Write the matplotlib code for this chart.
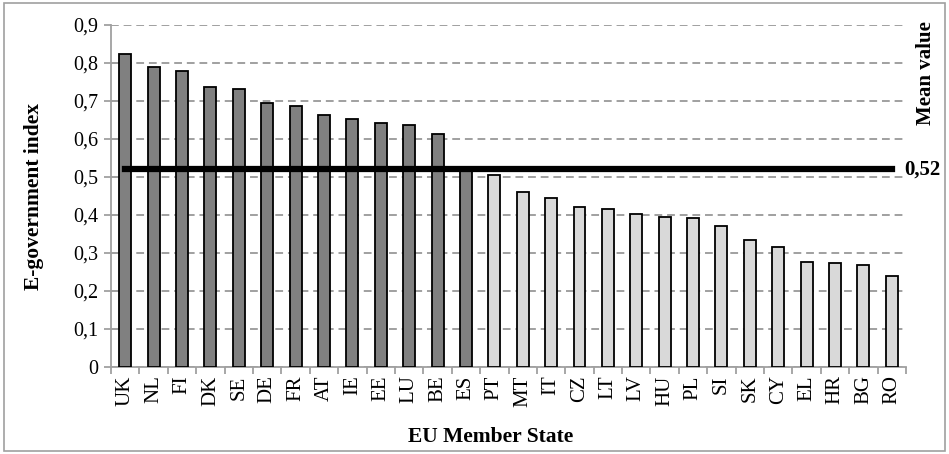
import matplotlib.pyplot as plt
from matplotlib.patches import Rectangle
from matplotlib.ticker import FuncFormatter, MultipleLocator

# E-government index per EU member state
countries = ["UK", "NL", "FI", "DK", "SE", "DE", "FR", "AT", "IE", "EE", "LU", "BE", "ES",
             "PT", "MT", "IT", "CZ", "LT", "LV", "HU", "PL", "SI", "SK", "CY", "EL", "HR", "BG", "RO"]
index_values = [0.823, 0.790, 0.779, 0.736, 0.732, 0.695, 0.687, 0.662, 0.652, 0.642, 0.638, 0.614, 0.520,
                0.506, 0.461, 0.446, 0.421, 0.417, 0.403, 0.395, 0.391, 0.372, 0.334, 0.315, 0.276, 0.274, 0.268, 0.240]
mean_value = 0.52

plt.rcParams['font.family'] = ['Liberation Serif', 'DejaVu Serif']

fig = plt.figure(figsize=(9.49, 4.54), dpi=100)
ax = fig.add_axes([0.117, 0.1916, 0.8377, 0.7534])

colors = ['#808080' if v >= mean_value else '#d9d9d9' for v in index_values]
x = list(range(len(countries)))
ax.bar(x, index_values, width=0.42, color=colors, edgecolor='black', linewidth=1.3, zorder=3)

# mean line
ax.plot([x[0], x[-1]], [mean_value, mean_value], color='black', linewidth=4.5, zorder=4)
ax.text(x[-1] + 0.45, mean_value, "0,52", fontsize=15, fontweight='bold', va='center', ha='left')
fig.text(0.976, 0.84, "Mean value", rotation=90, fontsize=15, fontweight='bold', va='center', ha='center')

ax.set_xlim(-0.5, len(countries) - 0.5)
ax.set_ylim(0, 0.9)
ax.yaxis.set_major_locator(MultipleLocator(0.1))
ax.yaxis.set_major_formatter(FuncFormatter(lambda v, p: "0" if abs(v) < 1e-9 else f"{v:.1f}".replace(".", ",")))
ax.yaxis.grid(True, linestyle=(0, (4, 2.5)), color='#a0a0a0', linewidth=1.4, zorder=0)

ax.set_xticks(x)
ax.set_xticklabels(countries, rotation=90, fontsize=15)
ax.set_xticks([i - 0.5 for i in range(len(countries) + 1)], minor=True)
ax.tick_params(axis='x', which='major', length=0, pad=6)
ax.tick_params(axis='x', which='minor', length=5, color='#a0a0a0', width=1.3)
ax.tick_params(axis='y', labelsize=14.5, length=5, color='#a0a0a0', width=1.3, pad=4)

for side in ['top', 'right']:
    ax.spines[side].set_visible(False)
for side in ['left', 'bottom']:
    ax.spines[side].set_color('#a0a0a0')
    ax.spines[side].set_linewidth(1.3)

fig.text(0.036, 0.568, "E-government index", rotation=90, fontsize=15.5, fontweight='bold',
         ha='center', va='center')
fig.text(0.517, 0.037, "EU Member State", fontsize=15.5, fontweight='bold', ha='center', va='center')

fig.patches.append(Rectangle((0.004, 0.006), 0.992, 0.988, transform=fig.transFigure,
                             fill=False, edgecolor='#a0a0a0', linewidth=1.2))

fig.savefig("out.png", dpi=100)
